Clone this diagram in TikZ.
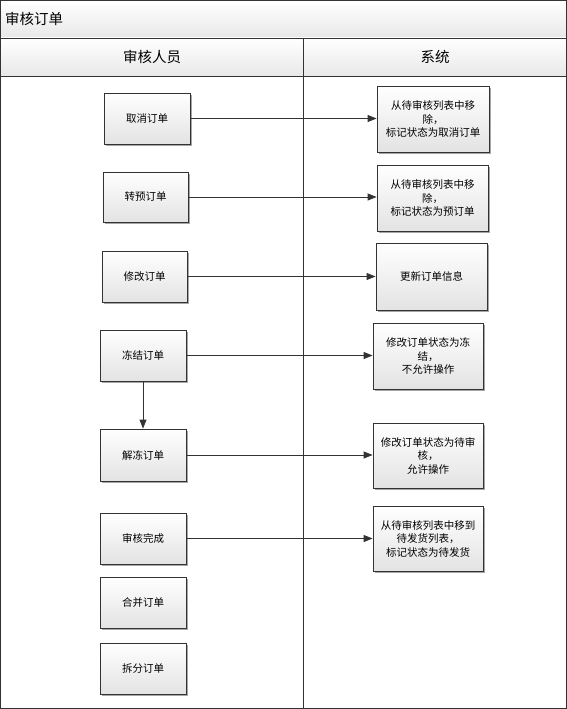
\documentclass[tikz,border=0pt]{standalone}
\usepackage{fontspec}
\newfontfamily\cjk{Noto Sans CJK SC}
\usetikzlibrary{arrows.meta}
\definecolor{linegray}{HTML}{333333}
\tikzset{
  band/.style={top color=white, bottom color=black!9, draw=none},
  stepbox/.style={draw=linegray, line width=0.8pt, top color=white, bottom color=black!11,
    font=\cjk\fontsize{10.5}{13.5}\selectfont, align=center, inner sep=2pt,
    preaction={fill=black!35, transform canvas={shift={(2pt,-2pt)}}}},
  flow/.style={draw=linegray, line width=0.8pt, -{Triangle[length=9pt,width=7pt]}},
  frame/.style={draw=linegray, line width=0.9pt}
}
\begin{document}
\begin{tikzpicture}[x=1pt,y=-1pt]
\useasboundingbox (0,0) rectangle (567,709);
% title and lane header bands
\fill[band] (0,0) rectangle (567,38);
\fill[band] (0,38) rectangle (567,76);
\fill[white] (0,76) rectangle (567,709);
\draw[frame] (0.5,0.5) rectangle (566.5,708.5);
\draw[frame] (0,38) -- (567,38);
\draw[frame] (0,76) -- (567,76);
\draw[frame] (303.5,38) -- (303.5,709);
\node[font=\cjk\fontsize{14.5}{16}\selectfont, anchor=west, inner sep=0pt] (title) at (5,19) {审核订单};
\node[font=\cjk\fontsize{14.5}{16}\selectfont] (lane1) at (152,57) {审核人员};
\node[font=\cjk\fontsize{14.5}{16}\selectfont] (lane2) at (435,57) {系统};

% reviewer actions
\node[stepbox, minimum width=86, minimum height=51] (l1) at (147,118.5) {取消订单};
\node[stepbox, minimum width=85, minimum height=50] (l2) at (145.5,197) {转预订单};
\node[stepbox, minimum width=85, minimum height=51] (l3) at (144.5,276.5) {修改订单};
\node[stepbox, minimum width=86, minimum height=51] (l4) at (143,355.5) {冻结订单};
\node[stepbox, minimum width=86, minimum height=52] (l5) at (143,455) {解冻订单};
\node[stepbox, minimum width=86, minimum height=51] (l6) at (143,538.5) {审核完成};
\node[stepbox, minimum width=86, minimum height=51] (l7) at (143,602.5) {合并订单};
\node[stepbox, minimum width=86, minimum height=51] (l8) at (143,668.5) {拆分订单};

% system reactions
\node[stepbox, minimum width=112, minimum height=66] (r1) at (433,119) {从待审核列表中移\\除，\\标记状态为取消订单};
\node[stepbox, minimum width=111, minimum height=66] (r2) at (432.5,198) {从待审核列表中移\\除，\\标记状态为预订单};
\node[stepbox, minimum width=111, minimum height=67] (r3) at (431.5,276.5) {更新订单信息};
\node[stepbox, minimum width=110, minimum height=66] (r4) at (428,356) {修改订单状态为冻\\结，\\不允许操作};
\node[stepbox, minimum width=110, minimum height=65] (r5) at (428,455.5) {修改订单状态为待审\\核，\\允许操作};
\node[stepbox, minimum width=110, minimum height=65] (r6) at (428,538.5) {从待审核列表中移到\\待发货列表，\\标记状态为待发货};

% connectors
\foreach \i in {1,...,6}{
  \draw[flow] (l\i.east) -- (l\i.east -| r\i.west);
}
\draw[flow] (l4.south) -- (l5.north);
\end{tikzpicture}
\end{document}
